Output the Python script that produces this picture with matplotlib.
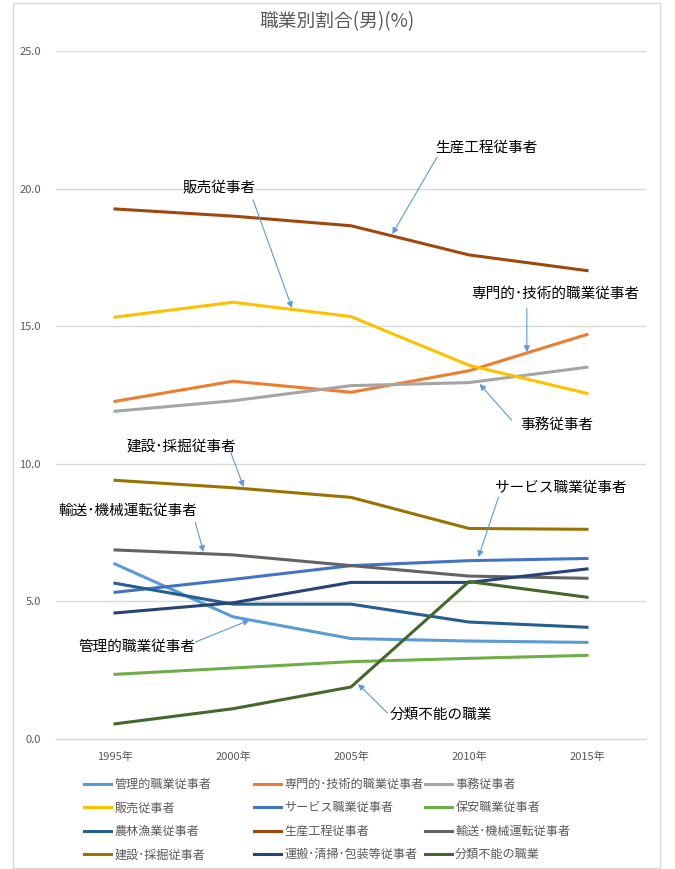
import matplotlib
matplotlib.use("Agg")
import matplotlib.pyplot as plt
from matplotlib.patches import Rectangle

plt.rcParams['font.family'] = ['Noto Sans CJK JP', 'DejaVu Sans']

years = ["1995年", "2000年", "2005年", "2010年", "2015年"]

series_names = [
    "管理的職業従事者", "専門的･技術的職業従事者", "事務従事者",
    "販売従事者", "サービス職業従事者", "保安職業従事者",
    "農林漁業従事者", "生産工程従事者", "輸送･機械運転従事者",
    "建設･採掘従事者", "運搬･清掃･包装等従事者", "分類不能の職業",
]

kanri     = [6.36, 4.44, 3.65, 3.56, 3.51]
senmon    = [12.27, 13.00, 12.60, 13.38, 14.70]
jimu      = [11.91, 12.29, 12.84, 12.95, 13.51]
hanbai    = [15.33, 15.87, 15.35, 13.58, 12.56]
service   = [5.33, 5.80, 6.30, 6.48, 6.56]
hoan      = [2.35, 2.58, 2.81, 2.93, 3.04]
nourin    = [5.66, 4.90, 4.90, 4.25, 4.06]
seisan    = [19.26, 19.00, 18.65, 17.59, 17.02]
yusou     = [6.87, 6.69, 6.30, 5.92, 5.84]
kensetsu  = [9.40, 9.13, 8.78, 7.65, 7.62]
unpan     = [4.58, 4.95, 5.69, 5.69, 6.18]
bunrui    = [0.55, 1.10, 1.89, 5.72, 5.15]

values = [kanri, senmon, jimu, hanbai, service, hoan,
          nourin, seisan, yusou, kensetsu, unpan, bunrui]

colors = ["#5B9BD5", "#ED7D31", "#A5A5A5", "#FFC000", "#4472C4", "#70AD47",
          "#255E91", "#9E480E", "#636363", "#997300", "#264478", "#43682B"]

# label, text position, arrow start, arrow tip (category index, %)
callouts = [
    ("生産工程従事者",           (3.15, 21.48), (2.73, 21.15), (2.35, 18.35)),
    ("販売従事者",               (0.88, 20.06), (1.17, 19.59), (1.50, 15.66)),
    ("専門的･技術的職業従事者", (3.73, 16.17), (3.49, 15.66), (3.49, 14.06)),
    ("事務従事者",               (3.74, 11.41), (3.36, 11.59), (3.09, 12.90)),
    ("建設･採掘従事者",         (0.56, 10.61), (0.97, 10.54), (1.09, 9.16)),
    ("輸送･機械運転従事者",     (0.11, 8.28),  (0.68, 7.88),  (0.75, 6.80)),
    ("サービス職業従事者",       (3.78, 9.12),  (3.25, 8.79),  (3.08, 6.61)),
    ("管理的職業従事者",         (0.19, 3.34),  (0.68, 3.52),  (1.14, 4.32)),
    ("分類不能の職業",           (2.76, 0.87),  (2.31, 0.94),  (2.06, 2.00)),
]

TXT = "#595959"
GRID = "#D9D9D9"


def main():
    fig = plt.figure(figsize=(6.75, 8.69), dpi=100)
    ax = fig.add_axes([56 / 675, 1 - 739 / 869, 590 / 675, 688 / 869])

    x = range(len(years))
    handles = []
    for name, vals, c in zip(series_names, values, colors):
        ln, = ax.plot(x, vals, color=c, linewidth=2.2, label=name,
                      solid_joinstyle="round", zorder=3)
        handles.append(ln)

    ax.set_xlim(-0.5, len(years) - 0.5)
    ax.set_ylim(0, 25)
    ax.set_yticks([0, 5, 10, 15, 20, 25])
    ax.set_yticklabels([f"{v:.1f}" for v in [0, 5, 10, 15, 20, 25]])
    ax.set_xticks(list(x))
    ax.set_xticklabels(years)
    ax.tick_params(axis="both", length=0, labelsize=8, labelcolor=TXT)
    ax.tick_params(axis="y", pad=11)
    ax.tick_params(axis="x", pad=9)
    ax.yaxis.grid(True, color=GRID, linewidth=1)
    ax.set_axisbelow(True)
    for side in ["top", "right", "left"]:
        ax.spines[side].set_visible(False)
    ax.spines["bottom"].set_color(GRID)
    ax.spines["bottom"].set_linewidth(1)

    for label, txt, start, tip in callouts:
        ax.text(txt[0], txt[1], label, ha="center", va="center",
                fontsize=10.5, color="black", zorder=5)
        ax.annotate("", xy=tip, xytext=start,
                    arrowprops=dict(arrowstyle="-|>", color="#5B9BD5",
                                    lw=0.8, mutation_scale=9,
                                    shrinkA=0, shrinkB=0), zorder=5)

    fig.text(337 / 675, 1 - 22 / 869, "職業別割合(男)(%)", ha="center",
             va="center", fontsize=13.5, color=TXT)

    # legend: three columns, filled row by row like the original
    col_x = [84 / 675, 254 / 675, 425 / 675]
    for ci, cx in enumerate(col_x):
        col_handles = [h for i, h in enumerate(handles) if i % 3 == ci]
        leg = fig.legend(handles=col_handles, loc="upper left",
                         bbox_to_anchor=(cx, 1 - 778 / 869), frameon=False,
                         fontsize=8.7, handlelength=2.2, handletextpad=0.3,
                         labelspacing=0.86, borderpad=0, borderaxespad=0)
        for t in leg.get_texts():
            t.set_color(TXT)
        for l in leg.get_lines():
            l.set_linewidth(2.2)

    fig.add_artist(Rectangle((13 / 675, 1 / 869), 647 / 675, 865 / 869,
                             transform=fig.transFigure, fill=False,
                             edgecolor=GRID, linewidth=1))

    fig.savefig("out.png", dpi=100, facecolor="white")


if __name__ == "__main__":
    main()
